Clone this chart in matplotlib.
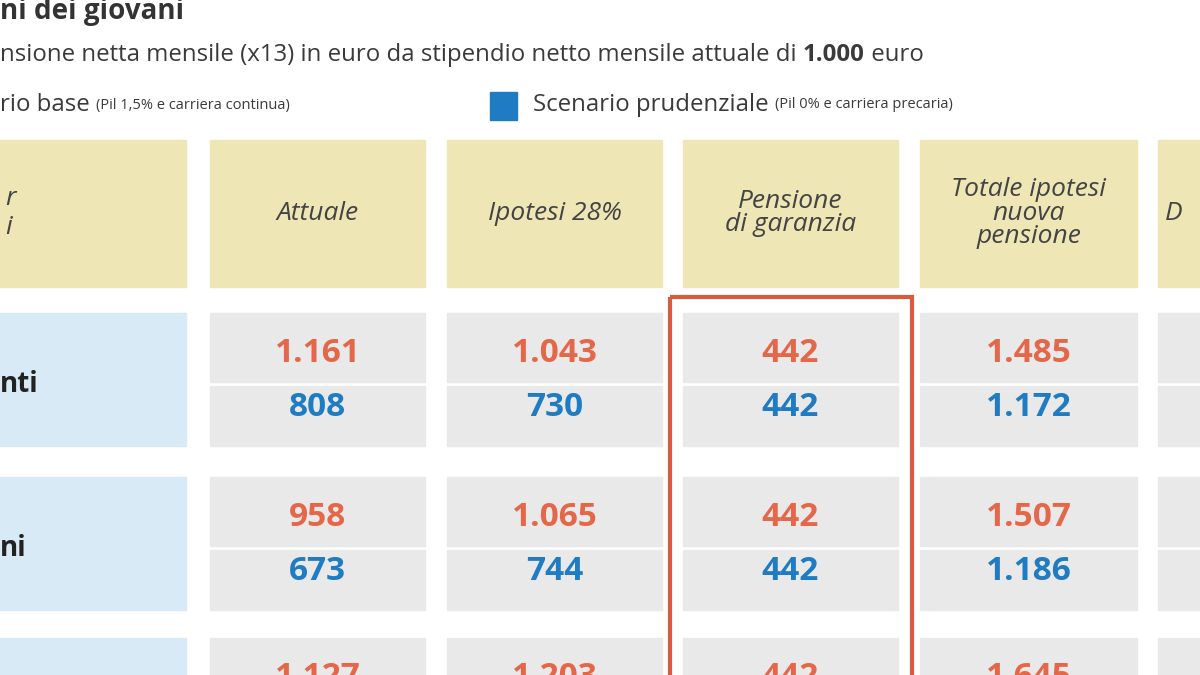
import matplotlib.pyplot as plt
from matplotlib.patches import Rectangle

plt.rcParams['font.family'] = ['Open Sans', 'DejaVu Sans']

ORANGE = '#e4674a'
BLUE = '#1f7cc2'
YELLOW = '#efe6b5'
LIGHTBLUE = '#d8eaf5'
GRAY = '#e9e9e9'
TEXT = '#3a3a3a'

# column edges (pixels) of the visible crop
col_x = [(-10, 186), (210, 425), (447, 662), (683, 898), (920, 1137), (1158, 1220)]
headers = ['r\ni', 'Attuale', 'Ipotesi 28%', 'Pensione\ndi garanzia',
           'Totale ipotesi\nnuova\npensione', 'D']

# rows: label, (base values), (prudential values); last group is cut at the bottom
rows = [
    ('nti', ['1.161', '1.043', '442', '1.485'], ['808', '730', '442', '1.172']),
    ('ni', ['958', '1.065', '442', '1.507'], ['673', '744', '442', '1.186']),
    ('', ['1.127', '1.203', '442', '1.645'], ['', '', '', '']),
]
row_top = [313, 477, 638]

fig = plt.figure(figsize=(12, 6.75), dpi=100)
ax = fig.add_axes([0, 0, 1, 1])
ax.set_xlim(0, 1200)
ax.set_ylim(675, 0)
ax.axis('off')
renderer = fig.canvas.get_renderer()


def run(x, y, parts):
    """Draw text pieces one after another on one line."""
    for s, size, weight in parts:
        t = ax.text(x, y, s, fontsize=size, fontweight=weight, color=TEXT, va='center')
        bb = t.get_window_extent(renderer)
        x += bb.width


ax.text(0, 12, 'ni dei giovani', fontsize=20, fontweight='bold', color='#333333', va='center')
run(0, 55, [('nsione netta mensile (x13) in euro da stipendio netto mensile attuale di ', 17.3, 'normal'),
            ('1.000', 17.3, 'bold'), (' euro', 17.3, 'normal')])
run(0, 105, [('rio base ', 17.3, 'normal'), ('(Pil 1,5% e carriera continua)', 10.5, 'normal')])
ax.add_patch(Rectangle((490, 92), 27, 28, color=BLUE))
run(533, 105, [('Scenario prudenziale ', 17.3, 'normal'), ('(Pil 0% e carriera precaria)', 10.5, 'normal')])

for i, (x0, x1) in enumerate(col_x):
    ax.add_patch(Rectangle((x0, 140), x1 - x0, 147, color=YELLOW))
    if i == 0:
        ax.text(5, 213, headers[i], fontsize=19, style='italic', color='#444444', va='center')
    elif i == 5:
        ax.text(1165, 213, headers[i], fontsize=19, style='italic', color='#444444', va='center')
    else:
        ax.text((x0 + x1) / 2, 213, headers[i], fontsize=19, style='italic', color='#444444',
                ha='center', va='center', linespacing=0.9)

for (label, base, prud), top in zip(rows, row_top):
    ax.add_patch(Rectangle((-10, top), 196, 133, color=LIGHTBLUE))
    ax.text(0, top + 72, label, fontsize=20, fontweight='bold', color='#222222', va='center')
    for j, (x0, x1) in enumerate(col_x[1:]):
        ax.add_patch(Rectangle((x0, top), x1 - x0, 69, color=GRAY))
        ax.add_patch(Rectangle((x0, top + 73), x1 - x0, 60, color=GRAY))
        if j < 4:
            cx = (x0 + x1) / 2
            ax.text(cx, top + 40, base[j], fontsize=24, fontweight='bold', color=ORANGE,
                    ha='center', va='center')
            ax.text(cx, top + 95, prud[j], fontsize=24, fontweight='bold', color=BLUE,
                    ha='center', va='center')

# highlight around the guarantee pension column
ax.add_patch(Rectangle((670, 297), 242, 420, fill=False, edgecolor='#d95a3c', linewidth=3))

fig.savefig('out.png', dpi=100)
